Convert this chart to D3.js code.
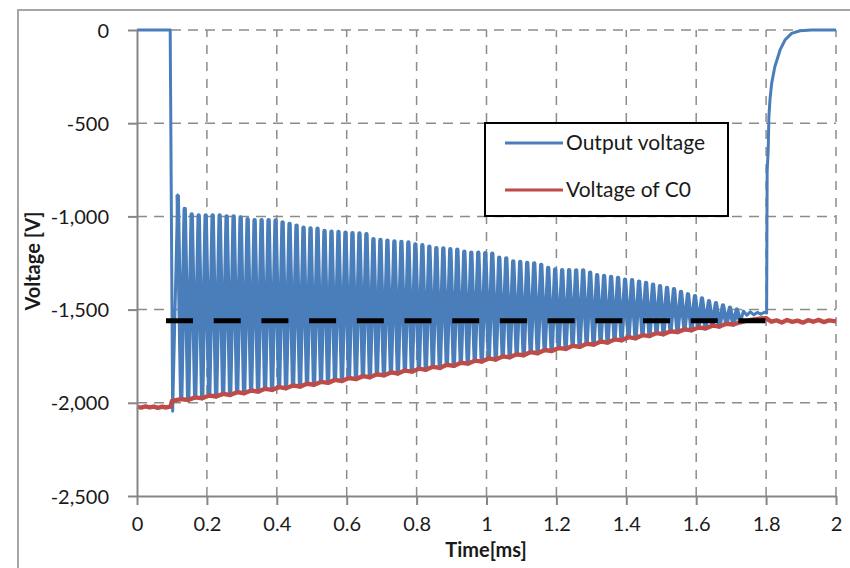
<!DOCTYPE html>
<html lang="en">
<head>
  <meta charset="UTF-8">
  <title>Output voltage and voltage of C0</title>
  <script src="https://cdnjs.cloudflare.com/ajax/libs/d3/7.8.5/d3.min.js"></script>
  <style>
    body {
      margin: 0;
      background: white;
    }
    svg {
      display: block;
      font-family: Lato, "Open Sans", sans-serif;
    }
    .grid line {
      stroke: #8c8c8c;
      stroke-width: 1.5;
    }
    .axis path, .axis line {
      stroke: #868686;
      stroke-width: 2;
    }
    .axis text {
      fill: #1a1a1a;
      font-size: 20px;
      font-family: Lato, "Open Sans", sans-serif;
    }
    .title {
      font-weight: bold;
      font-size: 20px;
      fill: #1a1a1a;
    }
  </style>
</head>
<body>
  <script>
    // tick labels
    var xTicks = [0, 0.2, 0.4, 0.6, 0.8, 1, 1.2, 1.4, 1.6, 1.8, 2];
    var yTicks = [0, -500, -1000, -1500, -2000, -2500];

    // output voltage before the pulse train [ms, V]
    var preOutTime = [0, 0.095, 0.102];
    var preOutV = [0, 0, -2045];

    // pulse train: one peak per 0.02 ms, trough sits on the C0 voltage
    var spikeStart = 0.1165;
    var spikePeriod = 0.02;
    var spikePeaks = [
      -885, -960, -990, -995, -995, -995, -995, -1000, -1000, -1005,
      -1015, -1020, -1020, -1020, -1022, -1032, -1040, -1050, -1060, -1064,
      -1066, -1078, -1082, -1084, -1088, -1090, -1092, -1095, -1122, -1127,
      -1130, -1135, -1137, -1140, -1150, -1155, -1162, -1170, -1172, -1176,
      -1178, -1190, -1195, -1195, -1197, -1200, -1222, -1225, -1242, -1245,
      -1250, -1252, -1260, -1277, -1285, -1288, -1288, -1290, -1290, -1302,
      -1315, -1320, -1325, -1330, -1340, -1342, -1350, -1357, -1366, -1375,
      -1384, -1390, -1405, -1418, -1428, -1440, -1455, -1466, -1478, -1490,
      -1500
    ];
    var spikeC0 = [
      -1980, -1985, -1971, -1976, -1961, -1966, -1952, -1958, -1943, -1949,
      -1934, -1940, -1925, -1931, -1916, -1922, -1907, -1913, -1898, -1903,
      -1888, -1893, -1877, -1883, -1867, -1873, -1857, -1863, -1847, -1853,
      -1837, -1843, -1827, -1833, -1817, -1823, -1807, -1813, -1796, -1802,
      -1785, -1790, -1774, -1779, -1762, -1768, -1751, -1756, -1740, -1745,
      -1728, -1734, -1717, -1722, -1706, -1711, -1694, -1700, -1683, -1688,
      -1671, -1677, -1660, -1665, -1648, -1654, -1637, -1642, -1626, -1632,
      -1616, -1621, -1606, -1611, -1596, -1601, -1586, -1591, -1576, -1580,
      -1568
    ];

    // output voltage after the pulse train and recovery to 0
    var tailOutTime = [1.735, 1.745, 1.755, 1.765, 1.775, 1.785, 1.795, 1.8015];
    var tailOutV = [-1508, -1530, -1512, -1528, -1515, -1525, -1514, -1518];
    var recoverTime = [1.803, 1.806, 1.808, 1.811, 1.816, 1.825, 1.84, 1.854, 1.873, 1.897, 1.93, 2.0];
    var recoverV = [-760, -644, -466, -375, -285, -197, -107, -54, -18, -4, 0, 0];

    // C0 voltage before and after the pulse train
    var preC0Time = [0, 0.012, 0.024, 0.036, 0.048, 0.06, 0.072, 0.084, 0.096, 0.1];
    var preC0 = [-2022, -2026, -2019, -2025, -2020, -2027, -2021, -2025, -2020, -1990];
    var tailC0Time = [1.74, 1.755, 1.77, 1.785, 1.8, 1.815, 1.83, 1.845, 1.86, 1.875, 1.89, 1.905, 1.92, 1.935, 1.95, 1.965, 1.98, 2.0];
    var tailC0 = [-1562, -1556, -1552, -1548, -1546, -1565, -1558, -1569, -1556, -1566, -1559, -1570, -1557, -1565, -1555, -1567, -1558, -1563];

    // black dashed reference level
    var refLevel = -1560;
    var refSpan = [0.083, 1.8];

    var w = 850;
    var h = 568;
    var blue = "#4a7ebb";
    var red = "#be4b48";

    var trainPts = [];
    spikePeaks.forEach(function(v, i) {
      var t = spikeStart + i * spikePeriod;
      trainPts.push([t, v]);
      trainPts.push([t + spikePeriod / 2, spikeC0[i]]);
    });

    var outputPts = [];
    preOutTime.forEach(function(t, i) { outputPts.push([t, preOutV[i]]); });
    outputPts = outputPts.concat(trainPts);
    tailOutTime.forEach(function(t, i) { outputPts.push([t, tailOutV[i]]); });
    recoverTime.forEach(function(t, i) { outputPts.push([t, recoverV[i]]); });

    var c0Pts = [];
    preC0Time.forEach(function(t, i) { c0Pts.push([t, preC0[i]]); });
    spikeC0.forEach(function(v, i) {
      c0Pts.push([spikeStart + i * spikePeriod + spikePeriod / 2, v]);
    });
    tailC0Time.forEach(function(t, i) { c0Pts.push([t, tailC0[i]]); });

    var svg = d3.select("body").append("svg")
      .attr("width", w)
      .attr("height", h);

    // outer chart frame (cut by the picture edge)
    svg.append("rect")
      .attr("x", 18).attr("y", 10)
      .attr("width", 900).attr("height", 600)
      .attr("fill", "none")
      .attr("stroke", "#a6a6a6")
      .attr("stroke-width", 2);

    var x = d3.scaleLinear().domain([0, 2]).range([137, 836]);
    var y = d3.scaleLinear().domain([-2500, 0]).range([496, 30]);

    var fmt = d3.formatLocale({
      decimal: ".", thousands: ",", grouping: [3], currency: ["", ""], minus: "-"
    }).format(",");

    // dashed grid
    var grid = svg.append("g").attr("class", "grid");
    grid.selectAll(".hgrid")
      .data(yTicks.filter(function(d) { return d !== -2500; }))
      .enter()
      .append("line")
      .attr("x1", x(0)).attr("x2", x(2))
      .attr("y1", function(d) { return y(d); })
      .attr("y2", function(d) { return y(d); })
      .attr("stroke-dasharray", "10,7");
    grid.selectAll(".vgrid")
      .data(xTicks.filter(function(d) { return d !== 0; }))
      .enter()
      .append("line")
      .attr("x1", function(d) { return x(d); })
      .attr("x2", function(d) { return x(d); })
      .attr("y1", y(-2500)).attr("y2", y(0))
      .attr("stroke-dasharray", "9,8");

    var line = d3.line()
      .x(function(d) { return x(d[0]); })
      .y(function(d) { return y(d[1]); });

    svg.append("path")
      .datum(outputPts)
      .attr("d", line)
      .attr("fill", "none")
      .attr("stroke", blue)
      .attr("stroke-width", 3)
      .attr("stroke-linejoin", "round");

    // the dense pulse train smears wider in the original
    svg.append("path")
      .datum(trainPts)
      .attr("d", line)
      .attr("fill", "none")
      .attr("stroke", blue)
      .attr("stroke-width", 4.4)
      .attr("stroke-linejoin", "round");

    svg.append("path")
      .datum(c0Pts)
      .attr("d", line)
      .attr("fill", "none")
      .attr("stroke", red)
      .attr("stroke-width", 4.4)
      .attr("stroke-linejoin", "round");

    svg.append("line")
      .attr("x1", x(refSpan[0])).attr("x2", x(refSpan[1]))
      .attr("y1", y(refLevel)).attr("y2", y(refLevel))
      .attr("stroke", "#000")
      .attr("stroke-width", 5)
      .attr("stroke-dasharray", "27,20.7");

    // axes
    var yAxis = svg.append("g")
      .attr("class", "axis")
      .attr("transform", "translate(" + x(0) + ",0)")
      .call(d3.axisLeft(y).tickValues(yTicks).tickSize(9).tickSizeOuter(0).tickPadding(19).tickFormat(fmt));
    yAxis.selectAll("text").attr("dy", "0.35em");

    var xAxis = svg.append("g")
      .attr("class", "axis")
      .attr("transform", "translate(0," + y(-2500) + ")")
      .call(d3.axisBottom(x).tickValues(xTicks).tickSize(9).tickSizeOuter(0).tickPadding(12)
        .tickFormat(function(d) { return String(d); }));

    svg.selectAll(".axis").attr("font-size", null).attr("font-family", null);

    svg.append("text")
      .attr("class", "title")
      .attr("x", 486)
      .attr("y", 557)
      .attr("text-anchor", "middle")
      .text("Time[ms]");

    svg.append("text")
      .attr("class", "title")
      .attr("transform", "translate(40,261) rotate(-90)")
      .attr("text-anchor", "middle")
      .text("Voltage [V]");

    // legend
    var legend = svg.append("g");
    legend.append("rect")
      .attr("x", 485).attr("y", 123)
      .attr("width", 243).attr("height", 93)
      .attr("fill", "white")
      .attr("stroke", "#000")
      .attr("stroke-width", 2);

    var legendItems = [
      { name: "Output voltage", color: blue, y: 143 },
      { name: "Voltage of C0", color: red, y: 190 }
    ];
    legend.selectAll(".lg-line")
      .data(legendItems)
      .enter()
      .append("line")
      .attr("x1", 505).attr("x2", 563)
      .attr("y1", function(d) { return d.y; })
      .attr("y2", function(d) { return d.y; })
      .attr("stroke", function(d) { return d.color; })
      .attr("stroke-width", 3);
    legend.selectAll(".lg-text")
      .data(legendItems)
      .enter()
      .append("text")
      .attr("x", 566)
      .attr("y", function(d) { return d.y; })
      .attr("dy", "0.35em")
      .attr("font-size", 21)
      .attr("fill", "#1a1a1a")
      .text(function(d) { return d.name; });
  </script>
</body>
</html>
